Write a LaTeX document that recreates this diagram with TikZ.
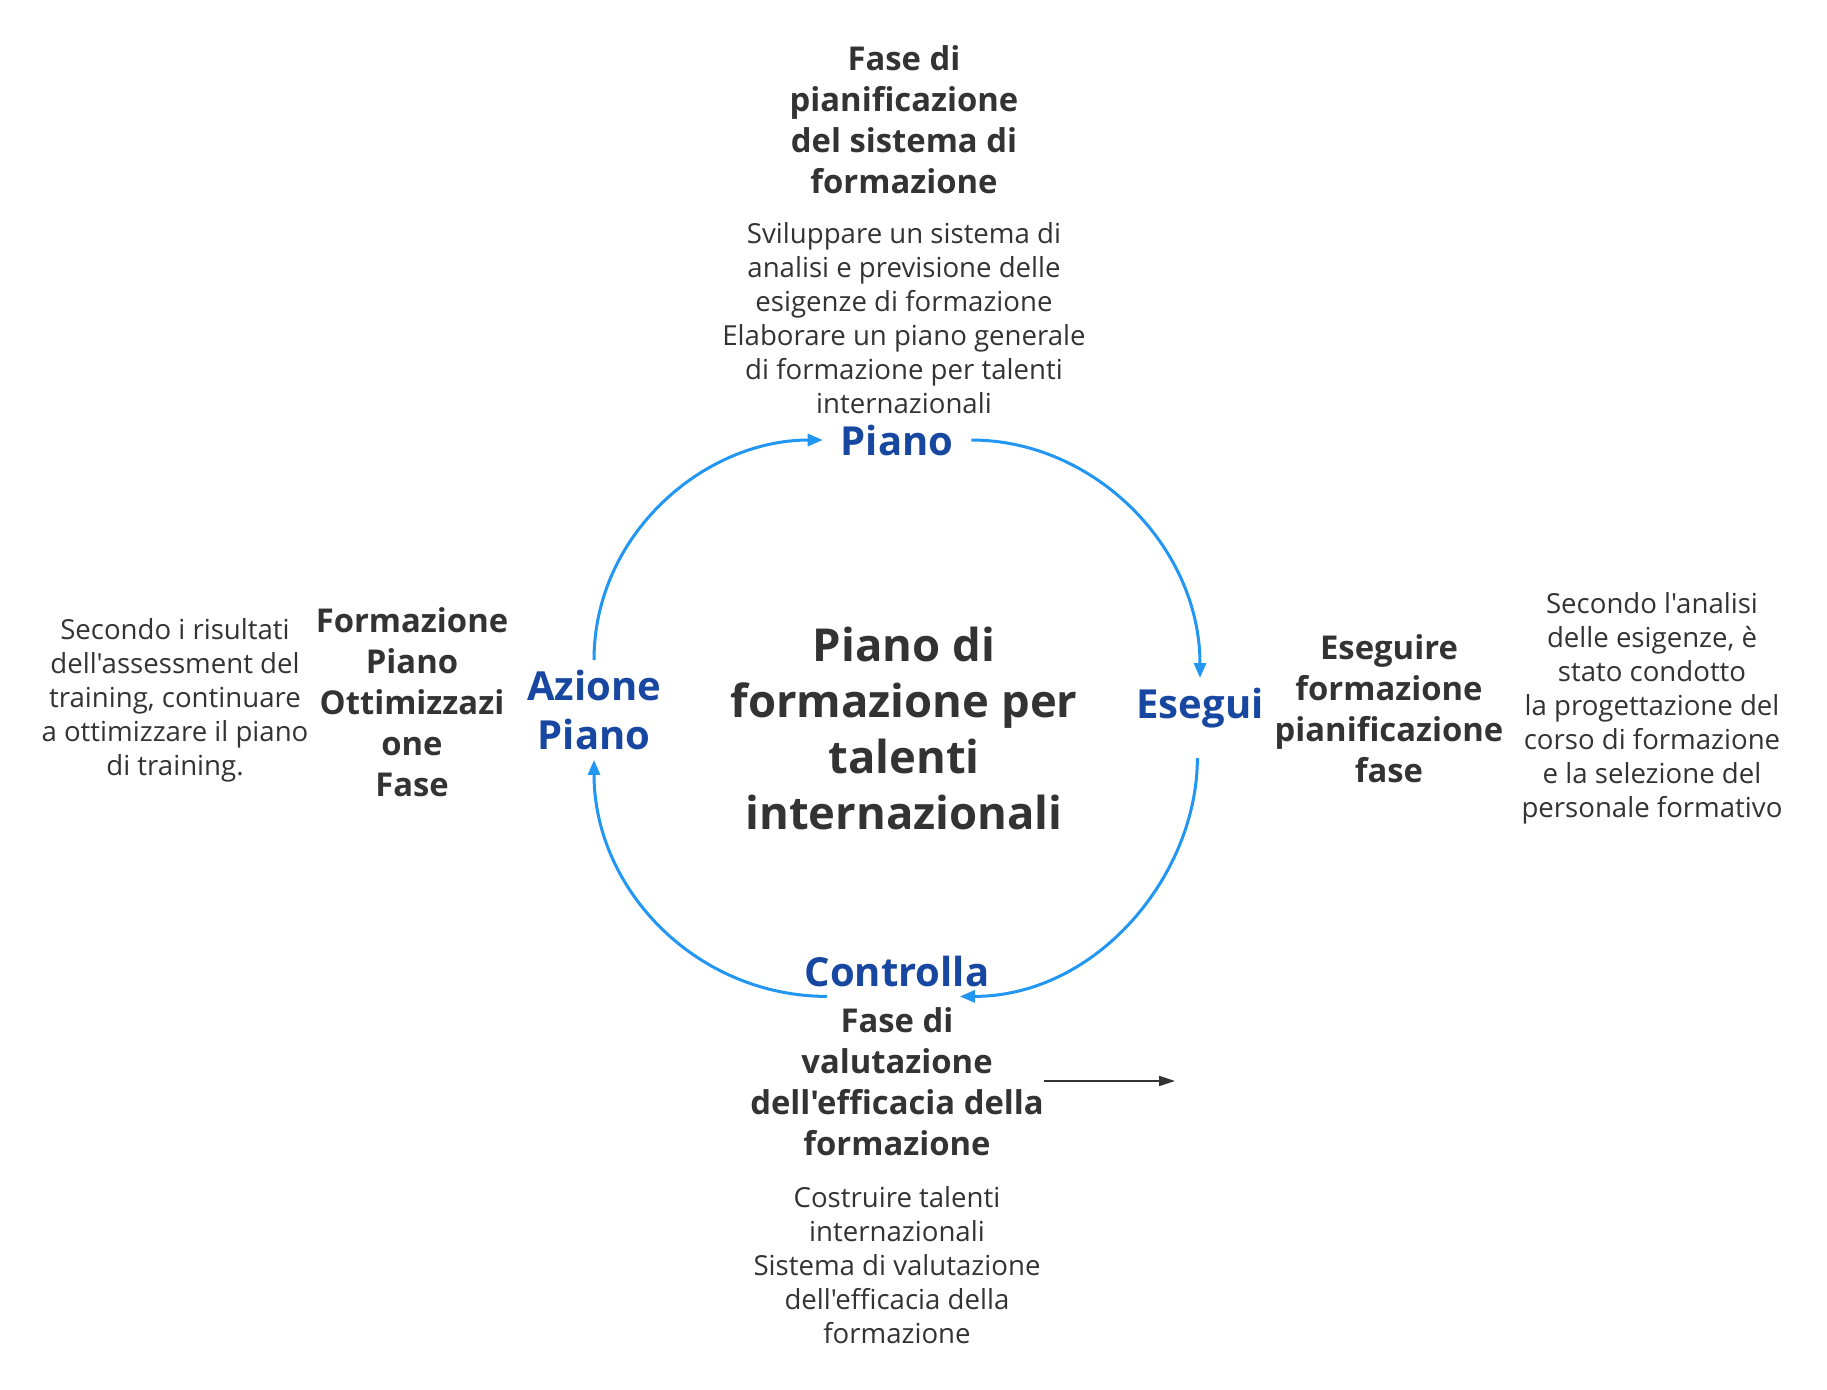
\documentclass[tikz,border=0pt]{standalone}
\usepackage{fontspec}
\setmainfont{Open Sans}[Ligatures=TeXOff]
\usepackage{tikz}
\usetikzlibrary{arrows.meta, positioning}
\definecolor{mydark}{HTML}{333333}
\definecolor{myblue}{HTML}{1747A0}
\definecolor{mylight}{HTML}{2196F3}
\tikzset{
	descnode/.style={
			text=mydark,
			align=center,
			inner sep=0pt,
			font=\fontsize{13.8}{17}\selectfont
		},
	titlenode/.style={
			text=mydark,
			align=center,
			inner sep=0pt,
			font=\bfseries\fontsize{16.4}{20.5}\selectfont
		},
	stepnode/.style={
			text=myblue,
			align=center,
			inner sep=0pt,
			outer sep=5pt,
			font=\bfseries\fontsize{20}{24.5}\selectfont
		},
	mainnode/.style={
			text=mydark,
			align=center,
			inner sep=0pt,
			font=\bfseries\fontsize{22.7}{28}\selectfont
		},
	cycleline/.style={
			draw=mylight,
			line width=1.5pt,
			-{Triangle[length=7.5pt,width=6pt]}
		},
	plainline/.style={
			draw=mydark,
			line width=1pt,
			-{Triangle[length=8pt,width=5pt]}
		}
}
\begin{document}
\begin{tikzpicture}[x=0.5pt, y=-0.5pt]
\fill[white] (0,0) rectangle (1827,1389);
\useasboundingbox (0,0) rectangle (1827,1389);

\node (main) at (904,728) [mainnode] {Piano di\\formazione per\\talenti\\internazionali};

\node (piano) at (897,440) [stepnode] {Piano};
\node (esegui) at (1200,708) [stepnode] {Esegui};
\node (controlla) at (897,971) [stepnode] {Controlla};
\node (azione) at (594,710) [stepnode] {Azione\\Piano};

\node (t1) at (904,120) [titlenode] {Fase di\\pianificazione\\del sistema di\\formazione};
\node (d1) at (904,318) [descnode] {Sviluppare un sistema di\\analisi e previsione delle\\esigenze di formazione\\Elaborare un piano generale\\di formazione per talenti\\internazionali};

\node (t2) at (1389,709) [titlenode] {Eseguire\\formazione\\pianificazione\\fase};
\node (d2) at (1652,708) [descnode] {Secondo l'analisi\\delle esigenze, è\\stato condotto\\la progettazione del\\corso di formazione\\e la selezione del\\personale formativo};

\node (t3) at (897,1082) [titlenode] {Fase di\\valutazione\\dell'efficacia della\\formazione};
\node (d3) at (897,1265) [descnode] {Costruire talenti\\internazionali\\Sistema di valutazione\\dell'efficacia della\\formazione};

\node (t4) at (412,702) [titlenode] {Formazione\\Piano\\Ottimizzazi\\one\\Fase};
\node (d4) at (175,700) [descnode] {Secondo i risultati\\dell'assessment del\\training, continuare\\a ottimizzare il piano\\di training.};

\coordinate (c1) at (1175,1081);

\draw[cycleline, shorten >=4pt] (azione.north) to[out=90, in=180] (piano.west);
\draw[cycleline, shorten <=4pt] (piano.east) to[out=0, in=90] (esegui.north);
\draw[cycleline, shorten <=10pt] (esegui.-95) to[out=-90, in=0] (controlla.-22);
\draw[cycleline] (controlla.200) to[out=180, in=-90] (azione.south);

\draw[plainline] (t3.east |- c1) -- (c1);

\end{tikzpicture}
\end{document}
